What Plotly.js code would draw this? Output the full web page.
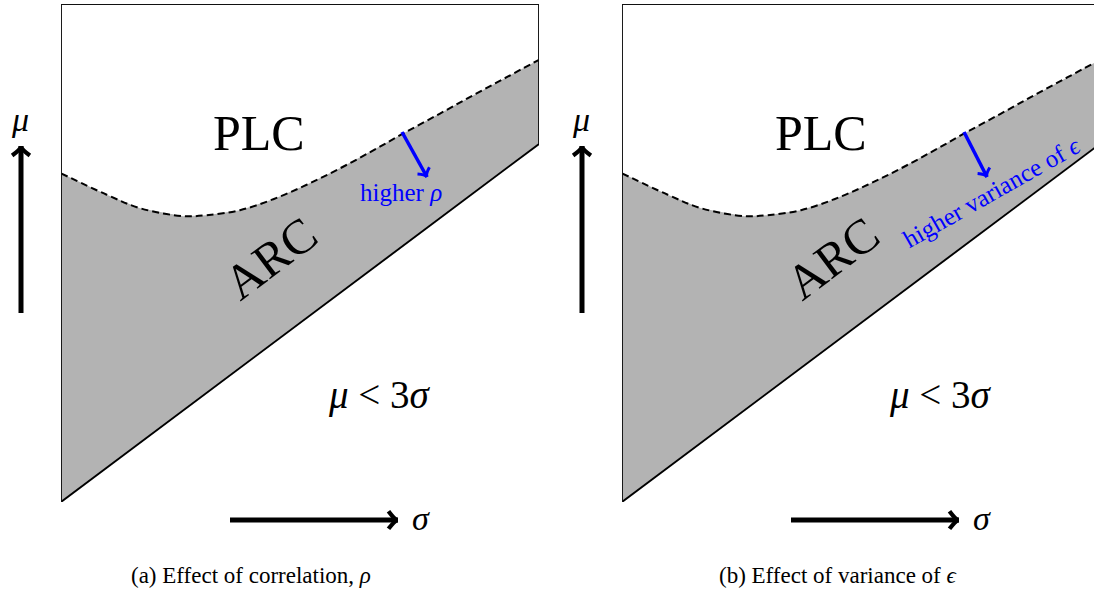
<!DOCTYPE html>
<html>
<head>
<meta charset="utf-8">
<script src="https://cdn.plot.ly/plotly-3.0.1.min.js"></script>
<style>html,body{margin:0;padding:0;background:#fff;}#chart{width:1094px;height:599px;}</style>
</head>
<body>
<div id="chart"></div>
<script>
// Boundary between PLC and ARC (dashed curve), panel units (sigma 0..10, mu 0..10)
const curveX = [0, 0.956, 1.653, 2.559, 3.048, 3.745, 4.441, 5.140, 5.837, 6.533, 7.161, 7.929, 8.625, 9.324, 10];
const curveY = [6.60, 6.17, 5.90, 5.74, 5.76, 5.86, 6.08, 6.37, 6.70, 7.06, 7.40, 7.80, 8.17, 8.53, 8.88];
// Lower boundary mu = 3 sigma (solid line)
const lineX = [0, 10];
const lineY = [0, 7.19];
// Panel frame
const boxX = [0, 10];
const boxY = [0, 10];

const regionLabels = ['PLC', 'ARC', '<i>μ</i> &lt; 3<i>σ</i>'];
const captions = ['(a) Effect of correlation, <i>ρ</i>', '(b) Effect of variance of <i>ϵ</i>'];
const effectLabels = ['higher <i>ρ</i>', 'higher variance of <i>ϵ</i>'];

const W = 1094, H = 599;
const X = px => px / W;
const Y = py => 1 - py / H;
const FONT = 'Liberation Serif, Times New Roman, serif';
const GRAY = '#b3b3b3';

const traces = [];
function panelTraces(xa, ya) {
  traces.push({
    type: 'scatter', mode: 'lines', xaxis: xa, yaxis: ya,
    x: curveX.concat([lineX[1], lineX[0]]),
    y: curveY.concat([lineY[1], lineY[0]]),
    fill: 'toself', fillcolor: GRAY, line: {width: 0, color: GRAY}, hoverinfo: 'skip'
  });
  traces.push({
    type: 'scatter', mode: 'lines', xaxis: xa, yaxis: ya,
    x: curveX, y: curveY, line: {color: '#000', width: 2, dash: '7px,4px', shape: 'spline', smoothing: 1}, hoverinfo: 'skip'
  });
  traces.push({
    type: 'scatter', mode: 'lines', xaxis: xa, yaxis: ya,
    x: lineX, y: lineY, line: {color: '#000', width: 1.9}, hoverinfo: 'skip'
  });
  traces.push({
    type: 'scatter', mode: 'lines', xaxis: xa, yaxis: ya,
    x: [boxX[0], boxX[0], boxX[1], boxX[1]], y: [boxY[0], boxY[1], boxY[1], lineY[1]],
    line: {color: '#111', width: 1.9}, hoverinfo: 'skip'
  });
}
panelTraces('x', 'y');
panelTraces('x2', 'y2');

// decorative arrows (pixel positions): tail -> tip
const arrows = [
  {x0: 21, y0: 313, x1: 21, y1: 146, color: '#000', w: 5, head: 13},
  {x0: 230, y0: 520, x1: 398, y1: 520, color: '#000', w: 5, head: 13},
  {x0: 582, y0: 313, x1: 582, y1: 146, color: '#000', w: 5, head: 13},
  {x0: 791, y0: 520, x1: 959, y1: 520, color: '#000', w: 5, head: 13},
  {x0: 402, y0: 132, x1: 427, y1: 177, color: '#0000ff', w: 3.5, head: 10},
  {x0: 964, y0: 132, x1: 987, y1: 177, color: '#0000ff', w: 3.5, head: 10}
];
const shapes = [];
arrows.forEach(a => {
  shapes.push({type: 'line', xref: 'paper', yref: 'paper', x0: X(a.x0), y0: Y(a.y0), x1: X(a.x1), y1: Y(a.y1),
    line: {color: a.color, width: a.w}});
  const ang = Math.atan2(a.y1 - a.y0, a.x1 - a.x0);
  const sp = 0.75;
  const p1 = [a.x1 - a.head * Math.cos(ang - sp), a.y1 - a.head * Math.sin(ang - sp)];
  const p2 = [a.x1 - a.head * Math.cos(ang + sp), a.y1 - a.head * Math.sin(ang + sp)];
  const c = [a.x1 - 3 * Math.cos(ang), a.y1 - 3 * Math.sin(ang)];
  const path = `M ${X(p1[0])} ${Y(p1[1])} Q ${X(c[0])} ${Y(c[1])} ${X(a.x1)} ${Y(a.y1)} Q ${X(c[0])} ${Y(c[1])} ${X(p2[0])} ${Y(p2[1])}`;
  shapes.push({type: 'path', xref: 'paper', yref: 'paper', path: path, line: {color: a.color, width: a.w * 0.85}});
});

const ann = [];
function txt(px, py, text, size, color, angle) {
  ann.push({xref: 'paper', yref: 'paper', x: X(px), y: Y(py), text: text, showarrow: false,
    xanchor: 'center', yanchor: 'middle', textangle: angle || 0,
    font: {family: FONT, size: size, color: color || '#000'}});
}
// panel (a)
txt(259, 133, regionLabels[0], 50);
txt(270, 258, regionLabels[1], 49, '#000', -37);
txt(379, 395, regionLabels[2], 39);
txt(401, 192, effectLabels[0], 25, '#0000ff');
txt(20, 120, '<i>μ</i>', 34);
txt(421, 518, '<i>σ</i>', 34);
txt(251, 575, captions[0], 23);
// panel (b)
txt(821, 133, regionLabels[0], 50);
txt(832, 258, regionLabels[1], 49, '#000', -37);
txt(940, 395, regionLabels[2], 39);
txt(991, 192, effectLabels[1], 25, '#0000ff', -29.5);
txt(581, 120, '<i>μ</i>', 34);
txt(982, 518, '<i>σ</i>', 34);
txt(838, 575, captions[1], 23);

const yDom = [Y(502), Y(4)];
const ax = {visible: false, fixedrange: true, showgrid: false, zeroline: false};
const layout = {
  width: W, height: H, margin: {l: 0, r: 0, t: 0, b: 0},
  paper_bgcolor: '#fff', plot_bgcolor: 'rgba(0,0,0,0)', showlegend: false,
  xaxis: Object.assign({}, ax, {domain: [X(61), X(539)], range: [0, 10]}),
  yaxis: Object.assign({}, ax, {domain: yDom, range: [0, 10]}),
  xaxis2: Object.assign({}, ax, {domain: [X(622), 1], range: [0, 10 * (W - 622) / 478], anchor: 'y2'}),
  yaxis2: Object.assign({}, ax, {domain: yDom, range: [0, 10], anchor: 'x2'}),
  shapes: shapes, annotations: ann
};
Plotly.newPlot('chart', traces, layout, {staticPlot: true, displayModeBar: false});
</script>
</body>
</html>
